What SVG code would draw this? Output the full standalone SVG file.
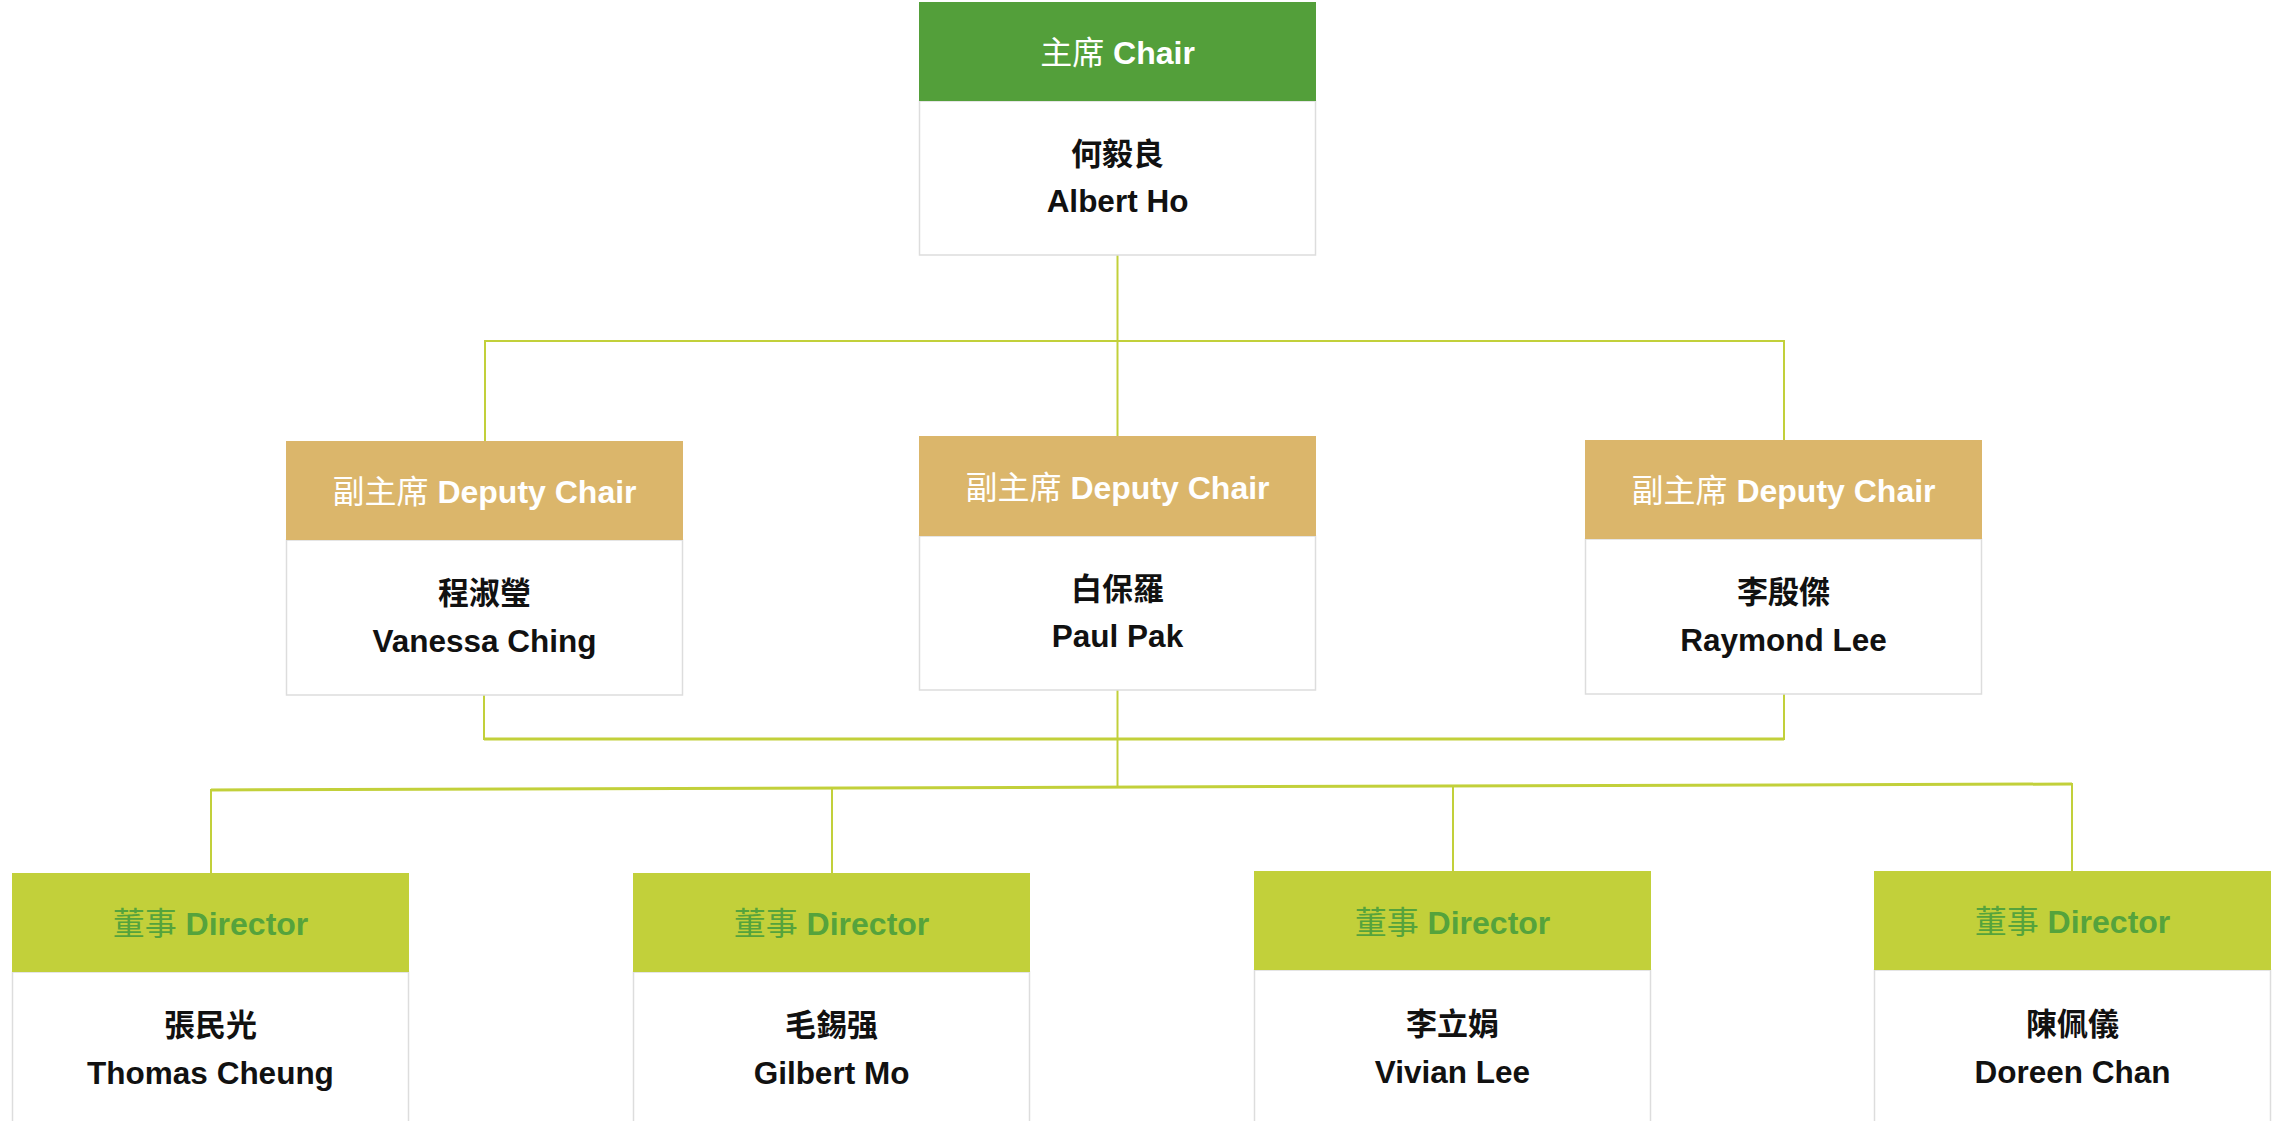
<svg xmlns="http://www.w3.org/2000/svg" width="2280" height="1121" viewBox="0 0 2280 1121">
<style>
.body{fill:#ffffff;stroke:#dddddd;stroke-width:1.5}
.hChair{fill:#539f3a}
.hDep{fill:#dbb66b}
.hDir{fill:#c2d03a}
.ht{font-family:"Liberation Sans","Noto Sans CJK TC",sans-serif;font-size:32px;text-anchor:middle}
.hz{font-family:"Noto Sans CJK TC",sans-serif;font-weight:400}
.he{font-family:"Liberation Sans","Noto Sans CJK TC",sans-serif;font-weight:700}
.w{fill:#ffffff}
.g{fill:#55a33c}
.zh{font-family:"Noto Sans CJK TC",sans-serif;font-weight:700;font-size:31px;fill:#111111;text-anchor:middle}
.en{font-family:"Liberation Sans",Arial,sans-serif;font-weight:700;font-size:31.5px;fill:#111111;text-anchor:middle}
.c{fill:none;stroke:#c2d03a;stroke-width:2;stroke-linecap:square}
.c3{fill:none;stroke:#c2d03a;stroke-width:3}
</style>
<rect x="0" y="0" width="2280" height="1121" fill="#ffffff"/>
<g id="connectors">
  <path class="c" d="M1117.5 256 V436"/>
  <path class="c" d="M485 441 V341 H1784 V440"/>
  <path class="c" d="M484 695 V739"/>
  <path class="c" d="M1784 694 V739"/>
  <path class="c3" d="M484 739 H1784"/>
  <path class="c" d="M1117.5 690 V787"/>
  <path class="c3" d="M211 790 L2072 784"/>
  <path class="c" d="M211 790 V873"/>
  <path class="c" d="M832 788 V872"/>
  <path class="c" d="M1453 786 V871"/>
  <path class="c" d="M2072 784 V871"/>
</g>
<g id="chair">
  <rect class="body" x="919.5" y="101" width="396" height="154"/>
  <rect class="hChair" x="919" y="2" width="397" height="99"/>
  <text class="ht w" x="1117.5" y="64"><tspan class="hz">主席</tspan> <tspan class="he">Chair</tspan></text>
  <text class="zh" x="1117.5" y="165">何毅良</text>
  <text class="en" x="1117.5" y="212">Albert Ho</text>
</g>
<g id="deputy-ching">
  <rect class="body" x="286.5" y="540" width="396" height="155"/>
  <rect class="hDep" x="286" y="441" width="397" height="99"/>
  <text class="ht w" x="484.5" y="503"><tspan class="hz">副主席</tspan> <tspan class="he">Deputy Chair</tspan></text>
  <text class="zh" x="484.5" y="604">程淑瑩</text>
  <text class="en" x="484.5" y="652">Vanessa Ching</text>
</g>
<g id="deputy-pak">
  <rect class="body" x="919.5" y="536" width="396" height="154"/>
  <rect class="hDep" x="919" y="436" width="397" height="100"/>
  <text class="ht w" x="1117.5" y="499"><tspan class="hz">副主席</tspan> <tspan class="he">Deputy Chair</tspan></text>
  <text class="zh" x="1117.5" y="600">白保羅</text>
  <text class="en" x="1117.5" y="647">Paul Pak</text>
</g>
<g id="deputy-lee">
  <rect class="body" x="1585.5" y="539" width="396" height="155"/>
  <rect class="hDep" x="1585" y="440" width="397" height="99"/>
  <text class="ht w" x="1783.5" y="502"><tspan class="hz">副主席</tspan> <tspan class="he">Deputy Chair</tspan></text>
  <text class="zh" x="1783.5" y="603">李殷傑</text>
  <text class="en" x="1783.5" y="651">Raymond Lee</text>
</g>
<g id="director-cheung">
  <rect class="body" x="12.5" y="972" width="396" height="156"/>
  <rect class="hDir" x="12" y="873" width="397" height="99"/>
  <text class="ht g" x="210.5" y="935"><tspan class="hz">董事</tspan> <tspan class="he">Director</tspan></text>
  <text class="zh" x="210.5" y="1036">張民光</text>
  <text class="en" x="210.5" y="1084">Thomas Cheung</text>
</g>
<g id="director-mo">
  <rect class="body" x="633.5" y="972" width="396" height="156"/>
  <rect class="hDir" x="633" y="873" width="397" height="99"/>
  <text class="ht g" x="831.5" y="935"><tspan class="hz">董事</tspan> <tspan class="he">Director</tspan></text>
  <text class="zh" x="831.5" y="1036">毛錫强</text>
  <text class="en" x="831.5" y="1084">Gilbert Mo</text>
</g>
<g id="director-lee">
  <rect class="body" x="1254.5" y="970" width="396" height="158"/>
  <rect class="hDir" x="1254" y="871" width="397" height="99"/>
  <text class="ht g" x="1452.5" y="934"><tspan class="hz">董事</tspan> <tspan class="he">Director</tspan></text>
  <text class="zh" x="1452.5" y="1035">李立娟</text>
  <text class="en" x="1452.5" y="1083">Vivian Lee</text>
</g>
<g id="director-chan">
  <rect class="body" x="1874.5" y="970" width="396" height="158"/>
  <rect class="hDir" x="1874" y="871" width="397" height="99"/>
  <text class="ht g" x="2072.5" y="933"><tspan class="hz">董事</tspan> <tspan class="he">Director</tspan></text>
  <text class="zh" x="2072.5" y="1035">陳佩儀</text>
  <text class="en" x="2072.5" y="1083">Doreen Chan</text>
</g>
</svg>
